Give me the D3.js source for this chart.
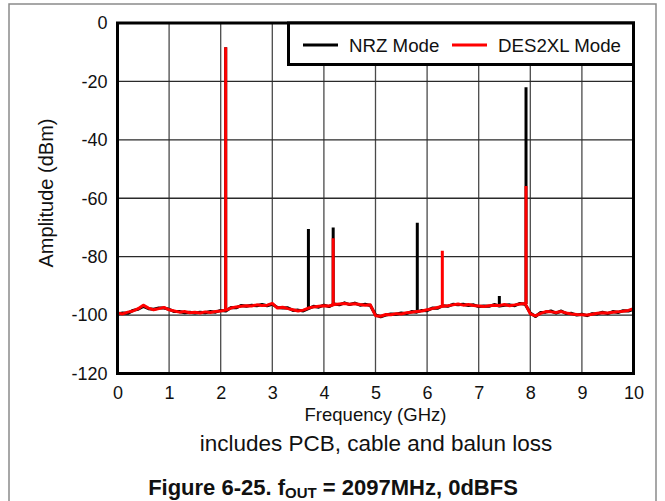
<!DOCTYPE html>
<html>
<head>
<meta charset="utf-8">
<script src="https://cdn.jsdelivr.net/npm/d3@7"></script>
<style>
  html, body { margin: 0; padding: 0; background: #fff; }
  svg { display: block; font-family: "Liberation Sans", Arial, Helvetica, sans-serif; }
</style>
</head>
<body>
<svg id="chart" width="665" height="501"></svg>
<script>
// ---------------- data ----------------
const freqTicks = [0, 1, 2, 3, 4, 5, 6, 7, 8, 9, 10];
const ampTicks = [0, -20, -40, -60, -80, -100, -120];

const floorFreq = d3.range(0, 101).map(i => i / 10);
const nrzFloor = [
  -99.6, -99.3, -99.4, -98.4, -98.0, -97.0, -97.8, -98.0, -97.6, -97.6,
  -98.0, -98.8, -98.8, -99.2, -99.0, -99.3, -99.0, -99.2, -98.8, -99.0,
  -98.4, -98.6, -97.4, -97.5, -96.7, -97.0, -96.6, -96.8, -96.4, -96.8,
  -96.3, -97.4, -97.6, -97.5, -98.4, -98.3, -98.6, -97.8, -97.0, -97.3,
  -96.6, -97.1, -96.2, -96.5, -95.8, -96.4, -95.9, -96.6, -96.3, -96.7,
  -99.9, -100.6, -100.0, -99.6, -99.7, -99.3, -99.5, -98.8, -99.0, -98.4,
  -98.5, -97.6, -97.7, -96.8, -97.0, -96.3, -96.5, -96.3, -96.7, -96.5,
  -97.1, -96.9, -97.0, -96.4, -96.9, -96.6, -96.5, -96.8, -96.0, -96.3,
  -99.3, -100.5, -99.1, -99.0, -98.6, -99.3, -98.6, -99.5, -99.4, -100.0,
  -99.7, -100.2, -99.5, -99.6, -99.0, -99.5, -98.8, -99.1, -98.5, -98.6,
  -98.0
];
const desFloor = [
  -99.3, -99.6, -99.0, -98.6, -97.8, -96.6, -97.6, -98.2, -97.8, -97.4,
  -98.2, -98.6, -99.0, -98.8, -99.2, -99.0, -99.3, -98.9, -99.1, -98.8,
  -98.6, -98.3, -97.6, -97.2, -97.0, -96.8, -96.9, -96.5, -96.7, -96.6,
  -96.0, -97.6, -97.3, -97.8, -98.2, -98.6, -98.3, -97.6, -97.2, -97.0,
  -96.8, -96.9, -96.4, -96.2, -96.0, -96.3, -96.1, -96.4, -96.6, -96.5,
  -100.2, -100.4, -99.8, -99.9, -99.5, -99.6, -99.2, -99.0, -98.8, -98.6,
  -98.2, -97.8, -97.4, -97.0, -96.8, -96.5, -96.2, -96.6, -96.4, -96.7,
  -96.9, -97.1, -96.8, -96.6, -96.7, -96.4, -96.8, -96.5, -96.2, -96.0,
  -99.6, -100.3, -99.4, -98.8, -98.9, -99.1, -98.8, -99.3, -99.6, -99.8,
  -99.9, -100.0, -99.7, -99.4, -99.2, -99.3, -99.0, -98.9, -98.7, -98.4,
  -97.8
];

// spurs / tones: frequency (GHz), peak (dBm), base level (dBm)
const nrzSpurFreq = [2.097, 3.70, 4.18, 5.81, 7.40, 7.917];
const nrzSpurPeak = [-8.3, -70.5, -70.0, -68.4, -93.5, -22.0];
const nrzSpurBase = [-98.3, -97.6, -96.6, -98.8, -96.7, -96.2];
const desSpurFreq = [2.097, 4.18, 6.295, 7.917];
const desSpurPeak = [-8.3, -73.7, -78.0, -55.8];
const desSpurBase = [-98.3, -96.6, -97.0, -96.2];

const seriesNames = ["NRZ Mode", "DES2XL Mode"];
const seriesColors = ["#000000", "#ff0000"];

// ---------------- drawing ----------------
const svg = d3.select("#chart");
const plot = { left: 117.5, right: 633.5, top: 23, bottom: 373.5 };

const x = d3.scaleLinear().domain([0, 10]).range([plot.left, plot.right]);
const y = d3.scaleLinear().domain([-120, 0]).range([plot.bottom, plot.top]);

// outer figure frame
svg.append("rect")
  .attr("x", 9).attr("y", 4).attr("width", 647).attr("height", 530)
  .attr("fill", "none").attr("stroke", "#8a8a8a").attr("stroke-width", 1.5);

// grid
const grid = svg.append("g");
grid.selectAll("line.v").data(freqTicks.slice(1, -1)).join("line")
  .attr("x1", d => x(d)).attr("x2", d => x(d))
  .attr("y1", plot.top).attr("y2", plot.bottom)
  .attr("stroke", "#4a4a4a").attr("stroke-width", 1.3);
grid.selectAll("line.h").data(ampTicks.slice(1, -1)).join("line")
  .attr("x1", plot.left).attr("x2", plot.right)
  .attr("y1", d => y(d)).attr("y2", d => y(d))
  .attr("stroke", "#2a2a2a").attr("stroke-width", 1.3);

// axes (labels only, via d3 axes)
const fmt = d => String(d);
const xAxis = svg.append("g")
  .attr("transform", `translate(0,${plot.bottom})`)
  .call(d3.axisBottom(x).tickValues(freqTicks).tickSize(0).tickPadding(13).tickFormat(fmt));
const yAxis = svg.append("g")
  .attr("transform", `translate(${plot.left},0)`)
  .call(d3.axisLeft(y).tickValues(ampTicks).tickSize(0).tickPadding(10).tickFormat(fmt));
[xAxis, yAxis].forEach(a => {
  a.select(".domain").remove();
  a.selectAll("text").attr("font-size", 18).attr("fill", "#111")
    .attr("font-family", '"Liberation Sans", Arial, sans-serif');
});

// series
svg.append("defs").append("clipPath").attr("id", "clip")
  .append("rect").attr("x", plot.left).attr("y", plot.top)
  .attr("width", plot.right - plot.left).attr("height", plot.bottom - plot.top);

const line = d3.line().x(d => x(d[0])).y(d => y(d[1]));
const data = svg.append("g").attr("clip-path", "url(#clip)");

function drawSeries(floor, spurF, spurP, spurB, color) {
  const g = data.append("g");
  g.append("path")
    .datum(floorFreq.map((f, i) => [f, floor[i]]))
    .attr("d", line)
    .attr("fill", "none").attr("stroke", color)
    .attr("stroke-width", 3).attr("stroke-linejoin", "round");
  g.selectAll("line.spur").data(spurF.map((f, i) => ({ f, p: spurP[i], b: spurB[i] })))
    .join("line")
    .attr("x1", d => x(d.f)).attr("x2", d => x(d.f))
    .attr("y1", d => y(d.b)).attr("y2", d => y(d.p))
    .attr("stroke", color).attr("stroke-width", 3);
}
drawSeries(nrzFloor, nrzSpurFreq, nrzSpurPeak, nrzSpurBase, seriesColors[0]);
drawSeries(desFloor, desSpurFreq, desSpurPeak, desSpurBase, seriesColors[1]);

// plot border
svg.append("rect")
  .attr("x", plot.left).attr("y", plot.top)
  .attr("width", plot.right - plot.left).attr("height", plot.bottom - plot.top)
  .attr("fill", "none").attr("stroke", "#000").attr("stroke-width", 3);

// legend
const leg = svg.append("g");
leg.append("rect")
  .attr("x", 288.5).attr("y", plot.top).attr("width", plot.right - 288.5).attr("height", 41.5)
  .attr("fill", "#fff").attr("stroke", "#000").attr("stroke-width", 3);
const legX = [303, 452];
seriesNames.forEach((name, i) => {
  leg.append("line")
    .attr("x1", legX[i]).attr("x2", legX[i] + 35).attr("y1", 45).attr("y2", 45)
    .attr("stroke", seriesColors[i]).attr("stroke-width", 3);
  leg.append("text")
    .attr("x", legX[i] + 46).attr("y", 51.5)
    .attr("font-size", 18.7).attr("fill", "#111").text(name);
});

// axis titles
svg.append("text")
  .attr("x", x(5)).attr("y", 421)
  .attr("text-anchor", "middle").attr("font-size", 18.5).attr("fill", "#111")
  .text("Frequency (GHz)");
svg.append("text")
  .attr("transform", "translate(53,193) rotate(-90)")
  .attr("text-anchor", "middle").attr("font-size", 20).attr("fill", "#111")
  .text("Amplitude (dBm)");

// notes
svg.append("text")
  .attr("x", 376).attr("y", 451)
  .attr("text-anchor", "middle").attr("font-size", 22.5).attr("fill", "#111")
  .text("includes PCB, cable and balun loss");

const title = svg.append("text")
  .attr("x", 333).attr("y", 495)
  .attr("text-anchor", "middle").attr("font-size", 22).attr("font-weight", "bold").attr("fill", "#111");
title.append("tspan").text("Figure 6-25. f");
title.append("tspan").attr("font-size", 15).attr("dy", 3).text("OUT");
title.append("tspan").attr("dy", -3).text(" = 2097MHz, 0dBFS");
</script>
</body>
</html>
